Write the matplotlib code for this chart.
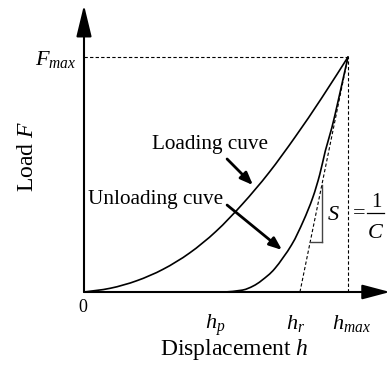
import numpy as np
import matplotlib
matplotlib.use("Agg")
import matplotlib.pyplot as plt
from matplotlib.path import Path
from matplotlib.patches import PathPatch
from matplotlib.lines import Line2D

plt.rcParams['font.family'] = ['Liberation Serif', 'DejaVu Serif']
plt.rcParams['mathtext.fontset'] = 'custom'
plt.rcParams['mathtext.rm'] = 'Liberation Serif'
plt.rcParams['mathtext.it'] = 'Liberation Serif:italic'

# ---- data (normalised: h_max = 1, F_max = 1) ----
h_max = 1.0
F_max = 1.0
h_r = 0.818
h_p = 0.534

load_h = [0.0, 0.1, 0.2, 0.3, 0.4, 0.5, 0.6, 0.7, 0.8, 0.9, 1.0]
load_F = [0.0, 0.016, 0.048, 0.097, 0.166, 0.258, 0.374, 0.507, 0.660, 0.825, 1.0]

unload_h = [0.534, 0.600, 0.640, 0.674, 0.723, 0.786, 0.830, 0.866, 0.893, 0.914, 0.939, 0.960, 0.980, 1.0]
unload_F = [0.0, 0.008, 0.025, 0.05, 0.1, 0.2, 0.3, 0.4, 0.5, 0.6, 0.7, 0.8, 0.9, 1.0]

tri_h = 0.902
tri_F = [0.213, 0.455]

x_label = "Displacement $h$"
y_label = "Load $F$"
xtick_labels = ["0", "$h_p$", "$h_r$", "$h_{max}$"]
ytick_label = "$F_{max}$"
curve_labels = ["Loading cuve", "Unloading cuve"]

# ---- figure ----
W, H = 390, 365
fig = plt.figure(figsize=(W / 100, H / 100), dpi=100)
x0, y0 = 84, 292          # pixel position of origin
sx, sy = 264, 235         # pixels per unit
xmax, ymax = 1.16, 1.225
ax = fig.add_axes([x0 / W, (H - y0) / H, xmax * sx / W, ymax * sy / H])
ax.set_xlim(0, xmax)
ax.set_ylim(0, ymax)
ax.axis('off')


def ftxt(xp, yp, s, **kw):
    return fig.text(xp / W, 1 - yp / H, s, **kw)


def smooth_path(xs, ys):
    P = np.column_stack([xs, ys]).astype(float)
    n = len(P)
    verts = [P[0]]
    codes = [Path.MOVETO]
    for i in range(n - 1):
        p0 = P[i - 1] if i > 0 else P[i]
        p1 = P[i]
        p2 = P[i + 1]
        p3 = P[i + 2] if i + 2 < n else P[i + 1]
        c1 = p1 + (p2 - p0) / 6.0
        c2 = p2 - (p3 - p1) / 6.0
        verts += [c1, c2, p2]
        codes += [Path.CURVE4] * 3
    return Path(verts, codes)


# axes with arrows
ax.annotate('', xy=(1.159, 0), xytext=(0, 0), annotation_clip=False,
            arrowprops=dict(arrowstyle='-|>,head_length=1.7,head_width=0.45',
                            mutation_scale=10, lw=1.5, color='k',
                            shrinkA=0, shrinkB=0))
ax.annotate('', xy=(0, 1.221), xytext=(0, 0), annotation_clip=False,
            arrowprops=dict(arrowstyle='-|>,head_length=1.94,head_width=0.47',
                            mutation_scale=10, lw=1.5, color='k',
                            shrinkA=0, shrinkB=0))

# curves
ax.add_patch(PathPatch(smooth_path(load_h, load_F), fill=False, lw=1.2,
                       edgecolor='k', capstyle='round'))
ax.add_patch(PathPatch(smooth_path(unload_h, unload_F), fill=False, lw=1.2,
                       edgecolor='k', capstyle='round'))

# dashed guides
dash = dict(color='k', lw=0.8, linestyle=(0, (3, 2)))
ax.plot([0, h_max], [F_max, F_max], **dash)
ax.plot([h_max, h_max], [0, F_max], **dash)
ax.plot([h_r, h_max], [0, F_max], **dash)

# slope triangle
tri_left = h_r + (h_max - h_r) * tri_F[0] / F_max
ax.plot([tri_h, tri_h], tri_F, color='#444444', lw=1.0)
ax.plot([tri_left, tri_h], [tri_F[0], tri_F[0]], color='#444444', lw=1.0)

# pointer arrows
ptr = dict(arrowstyle='-|>,head_length=0.75,head_width=0.3', mutation_scale=10,
           lw=2.0, color='k', shrinkA=0, shrinkB=0)
ax.annotate('', xy=(0.640, 0.455), xytext=(0.542, 0.566), arrowprops=ptr)
ax.annotate('', xy=(0.750, 0.179), xytext=(0.542, 0.370), arrowprops=ptr)

# texts
ftxt(152, 149, curve_labels[0], fontsize=15.3, ha='left', va='baseline')
ftxt(88, 204, curve_labels[1], fontsize=15.3, ha='left', va='baseline')
ftxt(234, 355, x_label, fontsize=17, ha='center', va='baseline')
ftxt(33, 156, y_label, fontsize=17, ha='center', va='baseline',
     rotation=90, rotation_mode='anchor')
ftxt(77, 65, ytick_label, fontsize=16, ha='right', va='baseline')
ftxt(83, 312, xtick_labels[0], fontsize=13, ha='center', va='baseline')
ftxt(215, 329, xtick_labels[1], fontsize=16, ha='center', va='baseline')
ftxt(296, 329, xtick_labels[2], fontsize=16, ha='center', va='baseline')
ftxt(351, 329, xtick_labels[3], fontsize=16, ha='center', va='baseline')

ftxt(333, 220, "$S$", fontsize=16, ha='center', va='baseline')
ftxt(359, 213.5, "=", fontsize=16, ha='center', va='center')
ftxt(376, 207, "1", fontsize=15, ha='center', va='baseline')
ftxt(376, 238, "$C$", fontsize=16, ha='center', va='baseline')
fig.add_artist(Line2D([367 / W, 384 / W], [1 - 213.3 / H, 1 - 213.3 / H],
                      transform=fig.transFigure, color='k', lw=0.9))

fig.savefig('out.png', dpi=100)
